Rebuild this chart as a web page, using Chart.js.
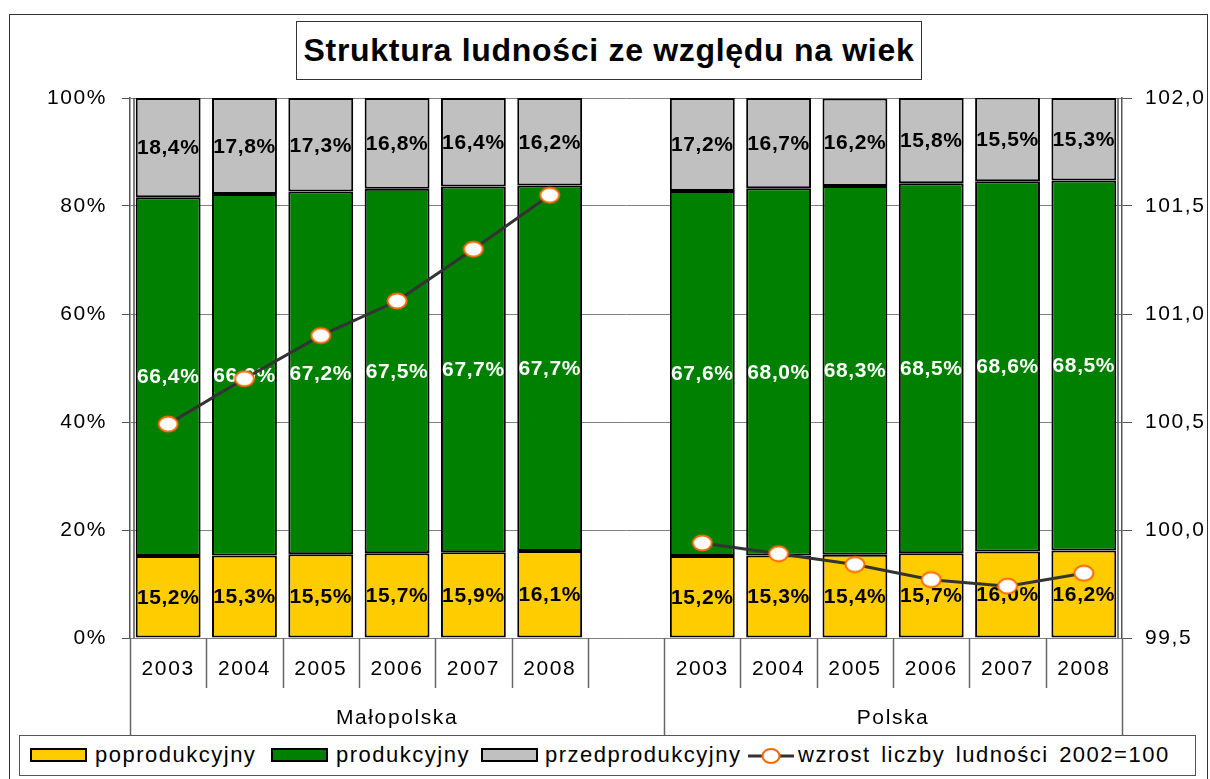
<!DOCTYPE html>
<html>
<head>
<meta charset="utf-8">
<script src="https://cdn.jsdelivr.net/npm/chart.js@4/dist/chart.umd.min.js"></script>
<style>
  html, body { margin: 0; padding: 0; background: #fff; overflow: hidden; }
  #wrap { position: relative; width: 1210px; height: 779px; font-family: 'Liberation Sans', Arial, sans-serif; }
  #frame { position: absolute; left: 9px; top: 14px; width: 1199px; height: 780px; border: 1.5px solid #333; box-sizing: border-box; }
  #title { position: absolute; left: 296px; top: 21px; width: 626px; height: 59px; border: 1.5px solid #333; box-sizing: border-box;
           background: #fff; font-weight: bold; font-size: 32px; letter-spacing: 0.7px; text-align: center; line-height: 56px; color: #000; }
  #legend { position: absolute; left: 19px; top: 735px; width: 1177px; height: 41px; border: 1.5px solid #555; box-sizing: border-box; background: #fff; }
  .sw { position: absolute; top: 12px; width: 57px; height: 14px; border: 2px solid #000; box-sizing: border-box; }
  .lt { position: absolute; top: 6px; font-size: 22px; letter-spacing: 1.5px; color: #000; white-space: nowrap; line-height: 26px; }
  canvas { position: absolute; left: 0; top: 0; }
</style>
</head>
<body>
<div id="wrap">
  <canvas id="chart" width="1210" height="779"></canvas>
  <div id="frame"></div>
  <div id="title">Struktura ludności ze względu na wiek</div>
  <div id="legend">
    <div class="sw" style="left:10px;background:#FFCC00"></div>
    <div class="lt" style="left:75px">poprodukcyjny</div>
    <div class="sw" style="left:251px;background:#008000"></div>
    <div class="lt" style="left:316px">produkcyjny</div>
    <div class="sw" style="left:461px;background:#C0C0C0"></div>
    <div class="lt" style="left:525px">przedprodukcyjny</div>
    <svg style="position:absolute;left:726px;top:9px" width="50" height="22">
      <line x1="2" y1="11" x2="48" y2="11" stroke="#333" stroke-width="3"/>
      <ellipse cx="25" cy="11" rx="8.5" ry="7" fill="#fff" stroke="#FF6600" stroke-width="2"/>
    </svg>
    <div class="lt" style="left:778px;word-spacing:3px">wzrost liczby ludności 2002=100</div>
  </div>
</div>
<script>
// kategorie: 6 lat Małopolska, przerwa, 6 lat Polska
const categories = ['2003', '2004', '2005', '2006', '2007', '2008', '', '2003', '2004', '2005', '2006', '2007', '2008'];
const groups = [
  { name: 'Małopolska', from: 0, to: 6 },
  { name: 'Polska', from: 7, to: 12 }
];

const poprodukcyjny = [15.2, 15.3, 15.5, 15.7, 15.9, 16.1, null, 15.2, 15.3, 15.4, 15.7, 16.0, 16.2];
const produkcyjny = [66.4, 66.9, 67.2, 67.5, 67.7, 67.7, null, 67.6, 68.0, 68.3, 68.5, 68.6, 68.5];
const przedprodukcyjny = [18.4, 17.8, 17.3, 16.8, 16.4, 16.2, null, 17.2, 16.7, 16.2, 15.8, 15.5, 15.3];
const wzrost = [100.49, 100.70, 100.90, 101.06, 101.30, 101.55, null, 99.94, 99.89, 99.84, 99.77, 99.74, 99.80];

const leftTicks = [0, 20, 40, 60, 80, 100];
const rightTicks = [99.5, 100.0, 100.5, 101.0, 101.5, 102.0];

const FONT = "'Liberation Sans', Arial, sans-serif";

function fmt(v, d) {
  return v.toFixed(d).replace('.', ',');
}

function ellipseMarker() {
  const c = document.createElement('canvas');
  c.width = 24; c.height = 20;
  const g = c.getContext('2d');
  g.beginPath();
  g.ellipse(12, 10, 9.5, 7.5, 0, 0, Math.PI * 2);
  g.fillStyle = '#fff';
  g.fill();
  g.lineWidth = 2;
  g.strokeStyle = '#FF6600';
  g.stroke();
  return c;
}

// etykiety wartości na słupkach
const barLabels = {
  id: 'barLabels',
  afterDatasetDraw(chart, args) {
    if (args.meta.type !== 'bar') return;
    const ctx = chart.ctx;
    const ds = chart.data.datasets[args.index];
    ctx.save();
    ctx.font = 'bold 21px ' + FONT;
    ctx.letterSpacing = '0.6px';
    ctx.textAlign = 'center';
    ctx.textBaseline = 'middle';
    ctx.fillStyle = ds.label === 'produkcyjny' ? '#fff' : '#000';
    args.meta.data.forEach((el, i) => {
      const v = ds.data[i];
      if (v == null) return;
      ctx.fillText(fmt(v, 1) + '%', el.x, (el.y + el.base) / 2 + 1);
    });
    ctx.restore();
  }
};

// oś X z grupami (lata + region)
const groupAxis = {
  id: 'groupAxis',
  beforeDraw(chart) {
    chart.ctx.letterSpacing = '1.6px';
  },
  afterDraw(chart) {
    const ctx = chart.ctx;
    const x = chart.scales.x;
    const area = chart.chartArea;
    const n = categories.length;
    const edge = (i) => {
      if (i <= 0) return area.left;
      if (i >= n) return area.right;
      return (x.getPixelForValue(i - 1) + x.getPixelForValue(i)) / 2;
    };
    ctx.save();
    ctx.strokeStyle = '#555';
    ctx.lineWidth = 1.5;
    // podwójne krawędzie obszaru wykresu
    ctx.beginPath();
    ctx.moveTo(area.left + 4, area.top); ctx.lineTo(area.left + 4, area.bottom);
    ctx.moveTo(area.right - 4, area.top); ctx.lineTo(area.right - 4, area.bottom);
    ctx.stroke();

    const starts = groups.map(g => g.from);
    ctx.strokeStyle = '#666';
    for (let i = 0; i <= n; i++) {
      const px = Math.round(edge(i)) + 0.5;
      const long = i === 0 || i === n || starts.includes(i);
      ctx.beginPath();
      ctx.moveTo(px, area.bottom);
      ctx.lineTo(px, long ? 735 : 688);
      ctx.stroke();
    }
    ctx.fillStyle = '#000';
    ctx.font = '21px ' + FONT;
    ctx.letterSpacing = '1.6px';
    ctx.textAlign = 'center';
    ctx.textBaseline = 'middle';
    categories.forEach((c, i) => {
      if (c) ctx.fillText(c, x.getPixelForValue(i), 669);
    });
    groups.forEach(g => {
      ctx.fillText(g.name, (edge(g.from) + edge(g.to + 1)) / 2, 718);
    });
    ctx.restore();
  }
};

const ctx = document.getElementById('chart').getContext('2d');
new Chart(ctx, {
  data: {
    labels: categories,
    datasets: [
      {
        type: 'line',
        label: 'wzrost liczby ludności 2002=100',
        data: wzrost,
        yAxisID: 'y2',
        order: 0,
        borderColor: '#333333',
        borderWidth: 3,
        pointStyle: ellipseMarker(),
        pointRadius: 9,
        spanGaps: false,
        tension: 0
      },
      {
        type: 'bar',
        label: 'poprodukcyjny',
        data: poprodukcyjny,
        backgroundColor: '#FFCC00',
        borderColor: '#000',
        borderWidth: 2,
        borderSkipped: false,
        order: 1
      },
      {
        type: 'bar',
        label: 'produkcyjny',
        data: produkcyjny,
        backgroundColor: '#008000',
        borderColor: '#000',
        borderWidth: 2,
        borderSkipped: false,
        order: 1
      },
      {
        type: 'bar',
        label: 'przedprodukcyjny',
        data: przedprodukcyjny,
        backgroundColor: '#C0C0C0',
        borderColor: '#000',
        borderWidth: 2,
        borderSkipped: false,
        order: 1
      }
    ]
  },
  options: {
    responsive: false,
    animation: false,
    barPercentage: 0.85,
    categoryPercentage: 1,
    layout: { padding: { left: 10, right: 0, top: 98, bottom: 141 } },
    plugins: {
      legend: { display: false },
      title: { display: false },
      tooltip: { enabled: false }
    },
    scales: {
      x: {
        stacked: true,
        display: false
      },
      y: {
        stacked: true,
        position: 'left',
        min: 0,
        max: 100,
        afterFit(s) { s.width = 120; },
        afterBuildTicks(s) { s.ticks = leftTicks.map(v => ({ value: v })); },
        ticks: {
          padding: 15,
          color: '#000',
          font: { family: FONT, size: 21 },
          callback: v => v + '%'
        },
        grid: { color: '#808080', lineWidth: 1, tickLength: 8, tickColor: '#555' },
        border: { display: true, color: '#555', width: 1.5 }
      },
      y2: {
        position: 'right',
        min: 99.5,
        max: 102,
        afterFit(s) { s.width = 88; },
        afterBuildTicks(s) { s.ticks = rightTicks.map(v => ({ value: v })); },
        ticks: {
          padding: 13,
          color: '#000',
          font: { family: FONT, size: 21 },
          callback: v => fmt(v, 1)
        },
        grid: { drawOnChartArea: false, tickLength: 10, color: '#555' },
        border: { display: true, color: '#555', width: 1.5 }
      }
    }
  },
  plugins: [barLabels, groupAxis]
});
</script>
</body>
</html>
